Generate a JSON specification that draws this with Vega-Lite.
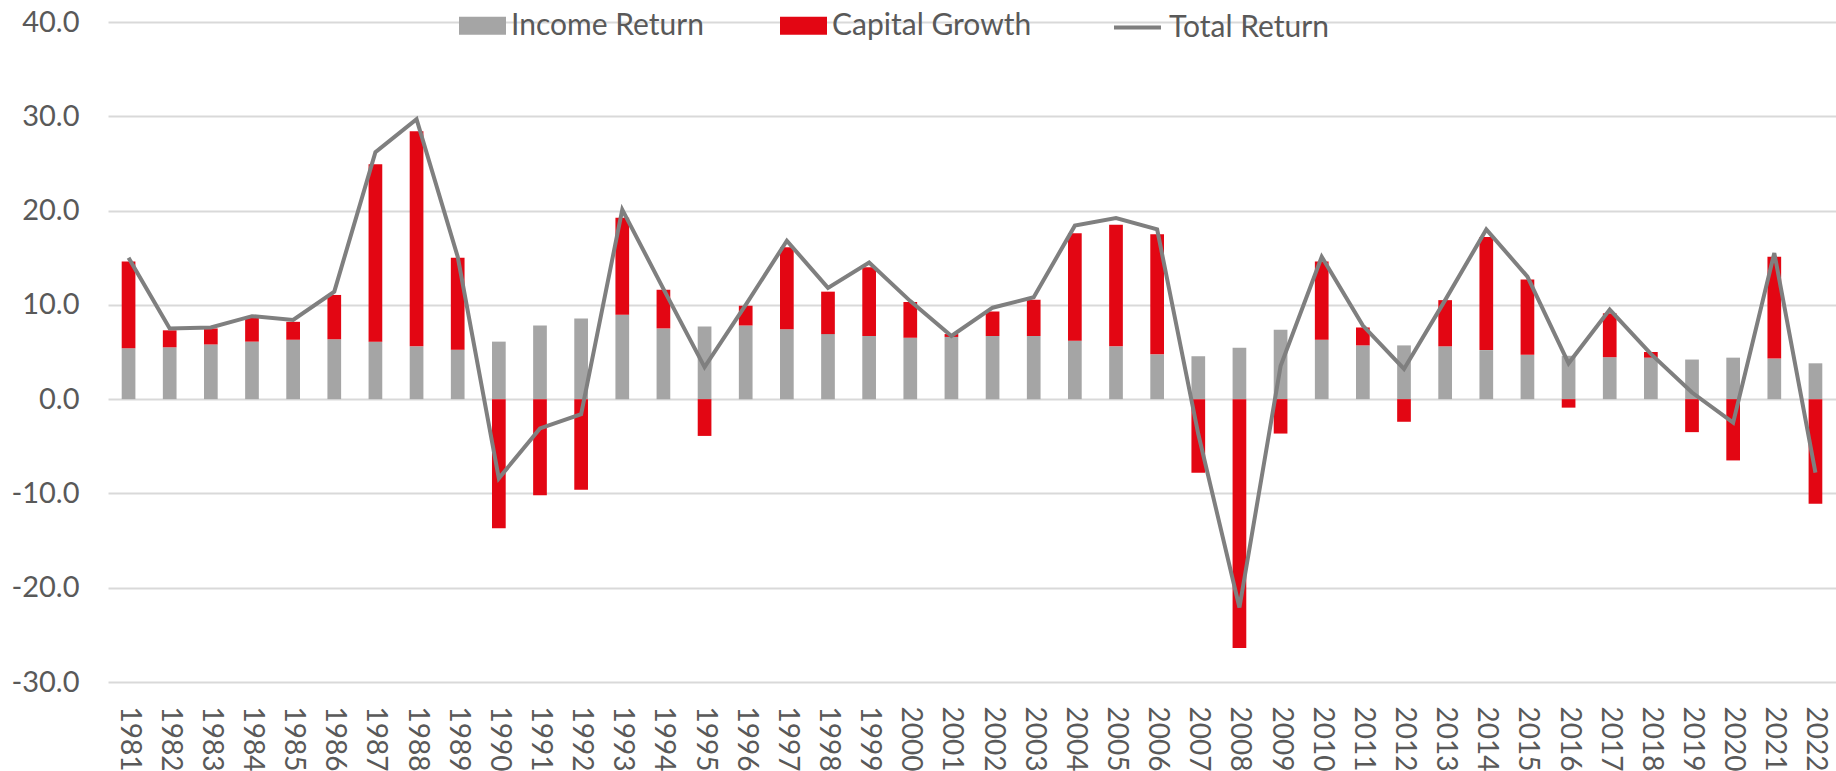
{
  "$schema": "https://vega.github.io/schema/vega-lite/v6.json",
  "width": 1728,
  "height": 660,
  "autosize": {"type": "none"},
  "padding": {"left": 108, "top": 22, "right": 0, "bottom": 89},
  "background": "white",
  "config": {
    "view": {"stroke": null},
    "font": "Lato",
    "axis": {"labelColor": "#595959", "labelFont": "Lato", "domain": false, "ticks": false, "title": null}
  },
  "data": {
    "values": [
      {"year": "1981", "Income Return": 5.4, "Capital Growth": 9.2, "Total Return": 15.0},
      {"year": "1982", "Income Return": 5.5, "Capital Growth": 1.8, "Total Return": 7.5},
      {"year": "1983", "Income Return": 5.8, "Capital Growth": 1.7, "Total Return": 7.6},
      {"year": "1984", "Income Return": 6.1, "Capital Growth": 2.6, "Total Return": 8.8},
      {"year": "1985", "Income Return": 6.3, "Capital Growth": 1.9, "Total Return": 8.4},
      {"year": "1986", "Income Return": 6.35, "Capital Growth": 4.7, "Total Return": 11.4},
      {"year": "1987", "Income Return": 6.1, "Capital Growth": 18.8, "Total Return": 26.2},
      {"year": "1988", "Income Return": 5.6, "Capital Growth": 22.8, "Total Return": 29.7},
      {"year": "1989", "Income Return": 5.25, "Capital Growth": 9.75, "Total Return": 15.1},
      {"year": "1990", "Income Return": 6.1, "Capital Growth": -13.7, "Total Return": -8.4},
      {"year": "1991", "Income Return": 7.8, "Capital Growth": -10.2, "Total Return": -3.1},
      {"year": "1992", "Income Return": 8.55, "Capital Growth": -9.6, "Total Return": -1.6},
      {"year": "1993", "Income Return": 8.95, "Capital Growth": 10.3, "Total Return": 20.1},
      {"year": "1994", "Income Return": 7.5, "Capital Growth": 4.1, "Total Return": 11.7},
      {"year": "1995", "Income Return": 7.7, "Capital Growth": -3.9, "Total Return": 3.4},
      {"year": "1996", "Income Return": 7.8, "Capital Growth": 2.1, "Total Return": 10.0},
      {"year": "1997", "Income Return": 7.4, "Capital Growth": 8.7, "Total Return": 16.8},
      {"year": "1998", "Income Return": 6.9, "Capital Growth": 4.5, "Total Return": 11.8},
      {"year": "1999", "Income Return": 6.7, "Capital Growth": 7.3, "Total Return": 14.5},
      {"year": "2000", "Income Return": 6.5, "Capital Growth": 3.8, "Total Return": 10.4},
      {"year": "2001", "Income Return": 6.6, "Capital Growth": 0.3, "Total Return": 6.7},
      {"year": "2002", "Income Return": 6.7, "Capital Growth": 2.6, "Total Return": 9.7},
      {"year": "2003", "Income Return": 6.7, "Capital Growth": 3.85, "Total Return": 10.8},
      {"year": "2004", "Income Return": 6.2, "Capital Growth": 11.4, "Total Return": 18.4},
      {"year": "2005", "Income Return": 5.6, "Capital Growth": 12.9, "Total Return": 19.2},
      {"year": "2006", "Income Return": 4.75, "Capital Growth": 12.75, "Total Return": 18.0},
      {"year": "2007", "Income Return": 4.55, "Capital Growth": -7.8, "Total Return": -3.7},
      {"year": "2008", "Income Return": 5.45, "Capital Growth": -26.4, "Total Return": -22.1},
      {"year": "2009", "Income Return": 7.35, "Capital Growth": -3.65, "Total Return": 3.5},
      {"year": "2010", "Income Return": 6.3, "Capital Growth": 8.3, "Total Return": 15.1},
      {"year": "2011", "Income Return": 5.7, "Capital Growth": 1.9, "Total Return": 7.8},
      {"year": "2012", "Income Return": 5.7, "Capital Growth": -2.4, "Total Return": 3.2},
      {"year": "2013", "Income Return": 5.6, "Capital Growth": 4.9, "Total Return": 10.5},
      {"year": "2014", "Income Return": 5.2, "Capital Growth": 12.0, "Total Return": 18.0},
      {"year": "2015", "Income Return": 4.7, "Capital Growth": 8.0, "Total Return": 13.0},
      {"year": "2016", "Income Return": 4.6, "Capital Growth": -0.9, "Total Return": 3.8},
      {"year": "2017", "Income Return": 4.45, "Capital Growth": 4.65, "Total Return": 9.5},
      {"year": "2018", "Income Return": 4.4, "Capital Growth": 0.6, "Total Return": 4.8},
      {"year": "2019", "Income Return": 4.2, "Capital Growth": -3.5, "Total Return": 0.7},
      {"year": "2020", "Income Return": 4.4, "Capital Growth": -6.5, "Total Return": -2.5},
      {"year": "2021", "Income Return": 4.3, "Capital Growth": 10.8, "Total Return": 15.5},
      {"year": "2022", "Income Return": 3.8, "Capital Growth": -11.1, "Total Return": -7.8}
    ]
  },
  "encoding": {
    "x": {
      "field": "year",
      "type": "ordinal",
      "scale": {"paddingInner": 0.667, "paddingOuter": 0.333},
      "axis": {"labelAngle": 90, "labelFontSize": 28, "labelPadding": 24, "grid": false}
    }
  },
  "layer": [
    {
      "transform": [{"fold": ["Income Return", "Capital Growth"], "as": ["series", "value"]}],
      "mark": {"type": "bar"},
      "encoding": {
        "y": {
          "field": "value",
          "type": "quantitative",
          "scale": {"domain": [-30, 40], "nice": false},
          "axis": {
            "values": [-30, -20, -10, 0, 10, 20, 30, 40],
            "labelExpr": "replace(format(datum.value, '.1f'), '\u2212', '-')",
            "labelFontSize": 29,
            "labelPadding": 29,
            "grid": true,
            "gridColor": "#d9d9d9",
            "gridWidth": 2
          }
        },
        "fill": {
          "field": "series",
          "type": "nominal",
          "scale": {"domain": ["Income Return", "Capital Growth"], "range": ["#a5a5a5", "#e30613"]},
          "legend": {
            "orient": "none",
            "legendX": 351,
            "legendY": -20,
            "direction": "horizontal",
            "title": null,
            "padding": 0,
            "symbolType": "M-1,-0.38H1V0.38H-1Z",
            "symbolSize": 2209,
            "symbolStrokeWidth": 0,
            "symbolOpacity": 1,
            "labelFontSize": 30,
            "labelLimit": 0,
            "labelColor": "#595959",
            "labelOffset": 5,
            "columnPadding": 76
          }
        },
        "order": {"field": "series", "sort": "descending"}
      }
    },
    {
      "mark": {"type": "line", "strokeWidth": 4},
      "encoding": {
        "y": {"field": "Total Return", "type": "quantitative"},
        "stroke": {
          "datum": "Total Return",
          "scale": {"range": ["#7f7f7f"]},
          "legend": {
            "orient": "none",
            "legendX": 1004,
            "legendY": -20,
            "title": null,
            "padding": 0,
            "symbolType": "stroke",
            "symbolSize": 2209,
            "symbolStrokeWidth": 4,
            "labelFontSize": 30,
            "labelLimit": 0,
            "labelColor": "#595959",
            "labelOffset": 6
          }
        }
      }
    }
  ]
}
